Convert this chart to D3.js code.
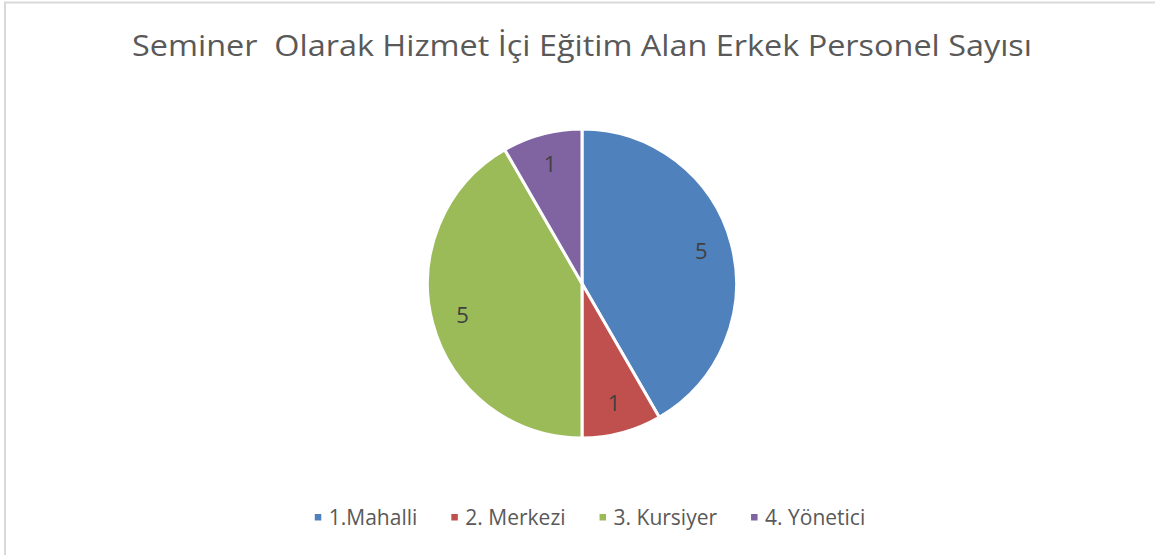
<!DOCTYPE html>
<html>
<head>
<meta charset="utf-8">
<script src="https://cdn.jsdelivr.net/npm/d3@7"></script>
<style>
  html, body { margin: 0; padding: 0; background: #fff; }
  svg text { font-family: "Open Sans", "DejaVu Sans", sans-serif; }
</style>
</head>
<body>
<div id="chart"></div>
<script>
// dữ liệu
const categories = ["1.Mahalli", "2. Merkezi", "3. Kursiyer", "4. Yönetici"];
const values = [5, 1, 5, 1];
const colors = ["#4f81bd", "#c0504d", "#9bbb59", "#8064a2"];
const chartTitle = "Seminer  Olarak Hizmet İçi Eğitim Alan Erkek Personel Sayısı";

const W = 1155, H = 555;
const cx = 582, cy = 283.5, R = 154.5;

const svg = d3.select("#chart").append("svg")
  .attr("width", W)
  .attr("height", H);

// khung viền
svg.append("rect")
  .attr("x", 5).attr("y", 2.5)
  .attr("width", W + 10).attr("height", H + 10)
  .attr("fill", "#fff")
  .attr("stroke", "#d9d9d9")
  .attr("stroke-width", 2);

// tiêu đề
svg.append("text")
  .attr("x", 582)
  .attr("y", 56)
  .attr("text-anchor", "middle")
  .attr("textLength", 900)
  .attr("lengthAdjust", "spacingAndGlyphs")
  .style("font-size", "30px")
  .style("fill", "#595959")
  .style("white-space", "pre")
  .text(chartTitle);

const data = categories.map((c, i) => ({ name: c, value: values[i], color: colors[i] }));

const pie = d3.pie().sort(null).value(d => d.value);
const arc = d3.arc().innerRadius(0).outerRadius(R);
const labelArc = d3.arc().innerRadius(R * 0.8).outerRadius(R * 0.8);

const g = svg.append("g").attr("transform", `translate(${cx},${cy})`);

g.selectAll("path")
  .data(pie(data))
  .enter().append("path")
    .attr("d", arc)
    .attr("fill", d => d.data.color)
    .attr("stroke", "#fff")
    .attr("stroke-width", 3)
    .attr("stroke-linejoin", "round");

g.selectAll(".lbl")
  .data(pie(data))
  .enter().append("text")
    .attr("class", "lbl")
    .attr("transform", d => `translate(${labelArc.centroid(d)})`)
    .attr("text-anchor", "middle")
    .attr("dy", "0.36em")
    .style("font-size", "22px")
    .style("fill", "#404040")
    .text(d => d.data.value);

// chú thích
const legend = svg.append("g");
const items = legend.selectAll("g")
  .data(data)
  .enter().append("g");

items.append("rect")
  .attr("width", 6.5).attr("height", 6.5)
  .attr("y", -11)
  .attr("fill", d => d.color);

items.append("text")
  .attr("x", 14)
  .style("font-size", "21px")
  .style("fill", "#595959")
  .text(d => d.name);

const gap = 34;
let xPos = 0;
items.each(function () {
  const t = d3.select(this).select("text").node().getComputedTextLength();
  d3.select(this).attr("transform", `translate(${xPos},0)`);
  xPos += 14 + t + gap;
});
const totalW = xPos - gap;
legend.attr("transform", `translate(${590 - totalW / 2},525)`);
</script>
</body>
</html>
